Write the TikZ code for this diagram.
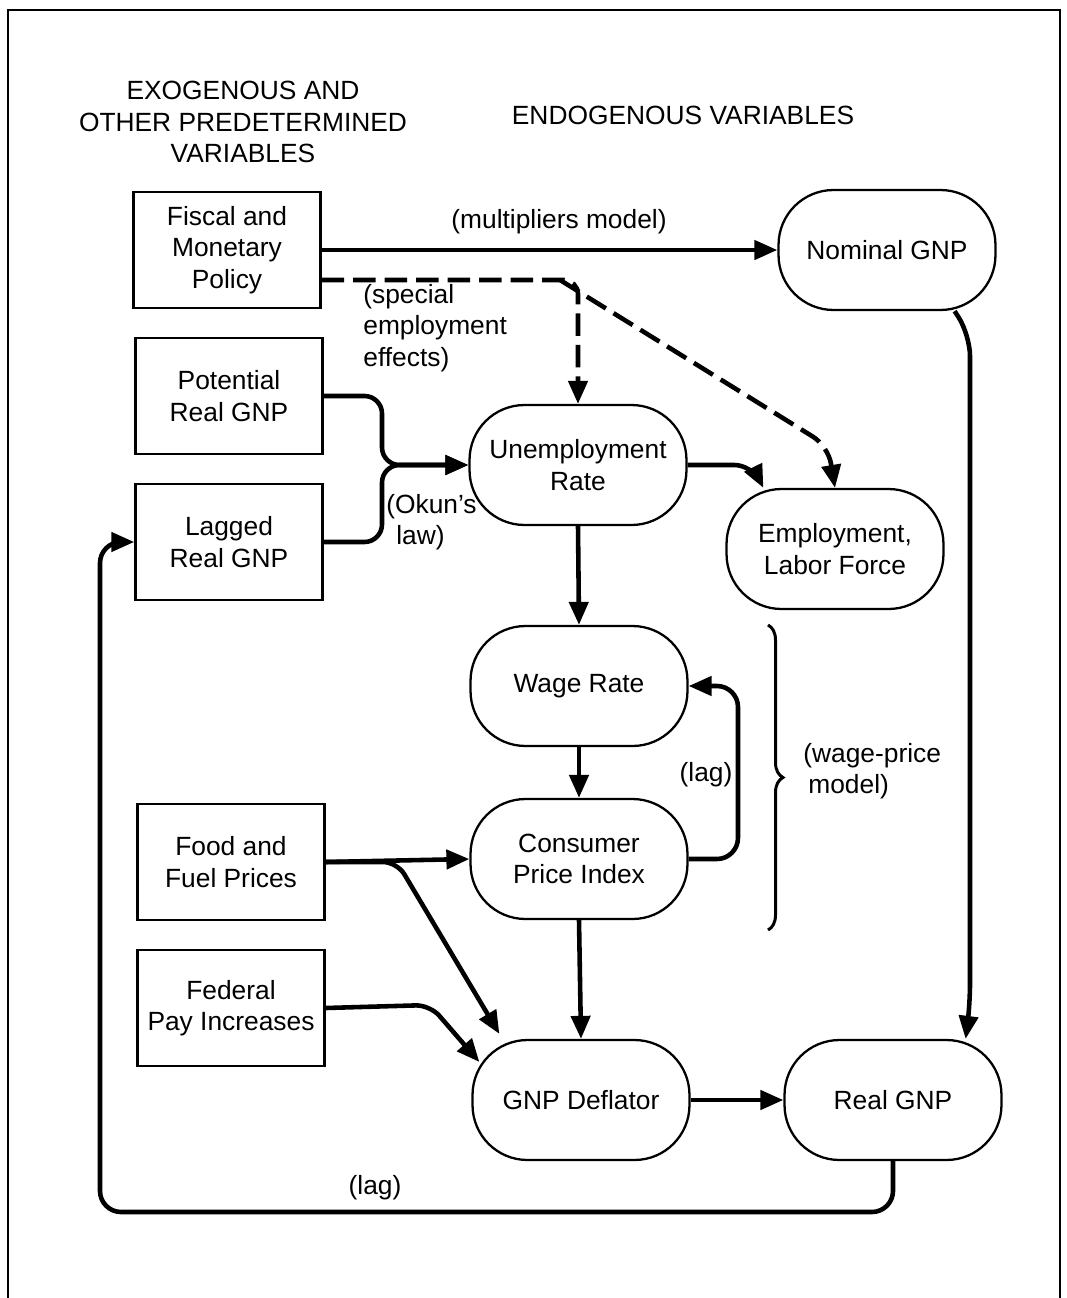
\documentclass[tikz,border=0pt]{standalone}
\usepackage{fontspec}
\setmainfont{Liberation Sans}
\usetikzlibrary{arrows.meta,positioning,decorations.pathreplacing}
\tikzset{
  box/.style   = {draw, line width=1.4pt, minimum width=3.74cm, minimum height=2.32cm, align=center},
  oval/.style  = {draw, line width=1.3pt, rounded corners=1.1cm, minimum width=4.34cm, minimum height=2.4cm, align=center},
  line/.style  = {-{Triangle[length=4.6mm,width=3.8mm]}, line width=2.6pt},
  dline/.style = {line, dash pattern=on 4.5mm off 1.8mm},
  note/.style  = {align=left, inner sep=0pt},
}

\begin{document}
\begin{tikzpicture}[x=0.02cm, y=-0.02cm, font=\fontsize{15}{18}\selectfont]
    \useasboundingbox (0,0) rectangle (1066,1298);
    \draw[line width=1.1pt] (8,1298) -- (8,10) -- (1060,10) -- (1060,1298);

    % Column headings
    \node[align=center] (exo) at (243,122) {EXOGENOUS AND\\OTHER PREDETERMINED\\VARIABLES};
    \node (endo) at (683,115) {ENDOGENOUS VARIABLES};

    % Left column (given variables)
    \node[box] (fiscal) at (227,250) {Fiscal and\\Monetary\\Policy};
    \node[box] (potential) at (229,396) {Potential\\Real GNP};
    \node[box] (lagged) at (229,542) {Lagged\\Real GNP};
    \node[box] (food) at (231,862) {Food and\\Fuel Prices};
    \node[box] (federal) at (231,1008) {Federal\\Pay Increases};

    % Endogenous variables
    \node[oval] (nominal) at (887,250) {Nominal GNP};
    \node[oval] (unemp) at (578,465) {Unemployment\\Rate};
    \node[oval] (emp) at (835,549) {Employment,\\Labor Force};
    \node[oval] (wage) at (579,686) {Wage Rate};
    \node[oval] (cpi) at (579,859) {Consumer\\Price Index};
    \node[oval] (defl) at (581,1100) {GNP Deflator};
    \node[oval] (real) at (893,1100) {Real GNP};

    % Policy links
    \draw[line] (fiscal.east) -- (nominal.west);
    \node (mult) at (559,222) {(multipliers model)};
    \draw[dline, rounded corners=8pt] ([yshift=-0.6cm]fiscal.east) -- (578,280) -- (unemp.north);
    \draw[dline, rounded corners=10pt] (560,280) -- (828,446) -- (emp.north);
    \node[note, anchor=west] (special) at (363,328) {(special\\employment\\effects)};

    % Okun's law
    \draw[line, rounded corners=10pt] (potential.east) -- (382,396) -- (382,465) -- (unemp.west);
    \draw[line, rounded corners=10pt] (lagged.east) -- (382,542) -- (382,465) -- (unemp.west);
    \node[note, anchor=west] (okun) at (386,522) {(Okun's\\\hspace*{0.2cm}law)};
    \draw[line, rounded corners=10pt] (unemp.east) -- (752,465) -- ([xshift=0.76cm]emp.north west);

    % Wage-price model
    \draw[line] (unemp.south) -- (wage.north);
    \draw[line] (wage.south) -- (cpi.north);
    \draw[line, rounded corners=12pt] (cpi.east) -- (738,859) -- (738,686) -- (wage.east);
    \node (lag1) at (706,775) {(lag)};
    \draw[line] (cpi.south) -- (defl.north);
    \draw[line width=1.7pt, decorate, decoration={brace, amplitude=0.3cm}] (768,625) -- (768,930);
    \node[note, anchor=west] (wp) at (803,771) {(wage-price\\\hspace*{0.1cm}model)};

    % Price inputs
    \draw[line] (food.east) -- (cpi.west);
    \draw[line, rounded corners=8pt] (food.east) -- (397,862) -- ([xshift=0.56cm,yshift=0.1cm]defl.north west);
    \draw[line, rounded corners=8pt] (federal.east) -- (430,1005) -- ([xshift=0.16cm,yshift=0.76cm]defl.west);

    % Output and feedback
    \draw[line] (defl.east) -- (real.west);
    \draw[line, rounded corners=12pt] ([xshift=-0.84cm]nominal.south east) -- (970,335) -- (970,1005) -- ([xshift=-0.74cm]real.north east);
    \draw[line, rounded corners=12pt] (real.south) -- (893,1212) -- (100,1212) -- (100,542) -- (lagged.west);
    \node (lag2) at (375,1188) {(lag)};
\end{tikzpicture}
\end{document}
